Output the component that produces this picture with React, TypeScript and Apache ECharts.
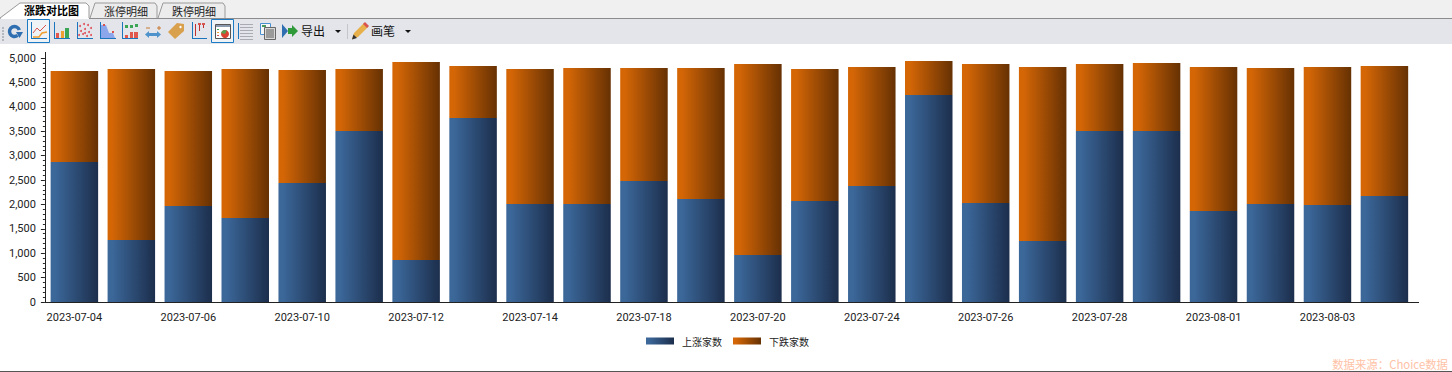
import React, { useEffect, useRef } from "react";
import * as echarts from "echarts";

const categories = ["2023-07-04","2023-07-05","2023-07-06","2023-07-07","2023-07-10","2023-07-11","2023-07-12","2023-07-13","2023-07-14","2023-07-17","2023-07-18","2023-07-19","2023-07-20","2023-07-21","2023-07-24","2023-07-25","2023-07-26","2023-07-27","2023-07-28","2023-07-31","2023-08-01","2023-08-02","2023-08-03","2023-08-04"];
const upCounts = [2869,1270,1967,1721,2439,3504,861,3770,2008,2008,2480,2111,963,2070,2377,4242,2029,1250,3504,3504,1865,2008,1988,2172];
const downCounts = [1865,3505,2767,3054,2315,1271,4057,1066,2767,2787,2315,2684,3914,2705,2439,697,2848,3566,1373,1394,2951,2787,2828,2664];
const seriesNames = ["上涨家数", "下跌家数"];
const tabNames = ["涨跌对比图", "涨停明细", "跌停明细"];
const watermark = "数据来源：Choice数据";

const FONT = "Roboto, 'Noto Sans CJK SC', sans-serif";
const CJK = "'Noto Sans CJK SC', sans-serif";
const BLUE = "#1b75bc";

const grad = (a: string, b: string) => new echarts.graphic.LinearGradient(0, 0, 1, 0, [
  { offset: 0, color: a }, { offset: 0.1, color: a }, { offset: 1, color: b },
]);

const rect = (x: number, y: number, w: number, h: number, fill: string, extra: any = {}) => ({
  type: "rect", shape: { x, y, width: w, height: h }, style: { fill, ...extra }, silent: true,
});
const box = (x: number, y: number, w: number, h: number, stroke: string, fill = "none") => ({
  type: "rect", shape: { x: x + 0.5, y: y + 0.5, width: w - 1, height: h - 1 }, style: { fill, stroke, lineWidth: 1 }, silent: true,
});
const line = (x1: number, y1: number, x2: number, y2: number, stroke: string, lineWidth = 1) => ({
  type: "line", shape: { x1, y1, x2, y2 }, style: { stroke, lineWidth }, silent: true,
});
const poly = (points: number[][], fill: string) => ({
  type: "polygon", shape: { points }, style: { fill }, silent: true,
});
const pline = (points: number[][], stroke: string, lineWidth = 1) => ({
  type: "polyline", shape: { points }, style: { stroke, lineWidth, fill: "none" }, silent: true,
});
const txt = (x: number, y: number, text: string, font: string, fill: string, align = "left") => ({
  type: "text", x, y, style: { text, font, fill, align, verticalAlign: "middle" }, silent: true,
});
const axesIcon = (x: number) => [
  line(x + 0.5, 22, x + 0.5, 39, BLUE), line(x, 38.5, x + 16, 38.5, BLUE),
];

function chrome() {
  const els: any[] = [];
  // tab strip
  els.push(rect(0, 0, 1452, 18, "#f0f0f0"));
  els.push(poly([[90, 18], [95, 3], [155, 3], [157, 6], [157, 18]], "#ececec"));
  els.push(pline([[90, 18], [95, 3], [155, 3], [157, 6], [157, 18]], "#9a9a9a"));
  els.push(poly([[158, 18], [163, 3], [223, 3], [225, 6], [225, 18]], "#ececec"));
  els.push(pline([[158, 18], [163, 3], [223, 3], [225, 6], [225, 18]], "#9a9a9a"));
  els.push(rect(0, 18, 1452, 1, "#8c8c8c"));
  els.push(poly([[0, 19], [20, 3], [86, 3], [89, 6], [89, 19]], "#ffffff"));
  els.push(pline([[0, 18], [20, 3], [86, 3], [89, 6], [89, 18]], "#9a9a9a"));
  els.push(txt(24, 10, tabNames[0], `bold 11px ${CJK}`, "#000"));
  els.push(txt(104, 10.5, tabNames[1], `11px ${CJK}`, "#222"));
  els.push(txt(172, 10.5, tabNames[2], `11px ${CJK}`, "#222"));
  // toolbar
  els.push(rect(0, 19, 1452, 25, "#e3e5ea"));
  for (let y = 27; y < 41; y += 3) els.push(rect(2, y, 2, 2, "#b4b8c0"));
  // refresh
  els.push({ type: "arc", shape: { cx: 14.5, cy: 31.5, r: 5, startAngle: 0.9, endAngle: 6.0 }, style: { stroke: "#2f6eb0", lineWidth: 3.5, fill: "none" }, silent: true });
  els.push(poly([[16, 32], [23, 32], [19.5, 38]], "#2f6eb0"));
  // selected line chart
  els.push(box(27, 19, 23, 24, "#1b7ac4", "#f0f3f6"));
  els.push(...axesIcon(31));
  els.push(pline([[33, 33], [37, 28], [40, 31], [46, 25]], "#d9534f"));
  els.push(pline([[33, 37], [39, 37], [42, 33], [47, 32]], "#f0a030", 1.5));
  // bar icon
  els.push(...axesIcon(54));
  els.push(rect(56, 33, 3, 5, "#e2574c"), rect(61, 31, 3, 7, "#f0a030"), rect(65, 28, 4, 10, "#3aa655"));
  // scatter
  els.push(...axesIcon(77));
  [[80,26],[84,24],[88,25],[91,28],[81,31],[85,29],[89,32],[79,35],[83,34],[87,36],[91,35],[85,33]].forEach(([cx, cy]) =>
    els.push({ type: "circle", shape: { cx, cy, r: 1 }, style: { fill: "#e0505a" }, silent: true }));
  // area
  els.push(poly([[101, 38], [101, 25], [106, 25], [109, 33], [113, 33], [115, 38]], "#8ba6ea"));
  els.push(...axesIcon(100));
  els.push(rect(103, 24, 2, 2, "#d9534f"), rect(112, 31, 2, 2, "#d9534f"));
  // bar up/down
  els.push(...axesIcon(122));
  els.push(rect(125, 25, 3, 3, "#3aa655"), rect(130, 25, 3, 3, "#3aa655"), rect(135, 24, 3, 3, "#3aa655"));
  els.push(rect(125, 35, 3, 3, "#e2574c"), rect(130, 32, 3, 6, "#e2574c"), rect(134, 32, 4, 6, "#e2574c"));
  // zoom arrows
  els.push(line(146, 28, 150, 28, "#c87830"), line(157, 28, 161, 28, "#c87830"), line(159, 26, 159, 30, "#c87830"));
  els.push(rect(148, 33, 10, 3, "#4f93cc"));
  els.push(poly([[145, 34.5], [149, 31], [149, 38]], "#4f93cc"), poly([[161, 34.5], [157, 31], [157, 38]], "#4f93cc"));
  // tag
  els.push(poly([[168, 32], [177, 23], [184, 24], [184, 31], [175, 39]], "#d9a04e"));
  els.push({ type: "circle", shape: { cx: 180.5, cy: 27, r: 1.2 }, style: { fill: "#fff" }, silent: true });
  // dots/bars
  els.push(line(192.5, 22, 192.5, 39, BLUE), line(192, 38.5, 207, 38.5, BLUE));
  els.push(rect(195, 24, 1, 12, "#c03030"), rect(199, 24, 1, 7, "#c03030"), rect(203, 24, 1, 4, "#c03030"));
  els.push(rect(198, 23, 3, 2, "#d9534f"), rect(202, 23, 3, 2, "#d9534f"));
  // selected pie window
  els.push(box(211, 19, 23, 24, "#1b7ac4", "#f0f3f6"));
  els.push(box(215, 24, 16, 15, "#555555", "#ffffff"));
  els.push(rect(216, 25, 14, 2, "#8a9ab0"));
  els.push(rect(217, 29, 2, 1, "#3aa655"), rect(217, 32, 2, 1, "#f0a030"), rect(217, 35, 2, 1, "#d9534f"));
  els.push({ type: "sector", shape: { cx: 225, cy: 34, r: 4, startAngle: 0, endAngle: 6.283 }, style: { fill: "#d9432f" }, silent: true });
  els.push({ type: "sector", shape: { cx: 225, cy: 34, r: 4, startAngle: 3.4, endAngle: 5.2 }, style: { fill: "#5aa050" }, silent: true });
  // list lines
  els.push(line(238.5, 23, 238.5, 39, BLUE));
  for (let y = 24; y < 40; y += 3) els.push(line(240, y + 0.5, 253, y + 0.5, "#a8acb2"));
  // window icon
  els.push(box(260, 23, 11, 12, "#4a90d0", "#f4f6f8"));
  els.push(box(264, 27, 12, 13, "#666666", "#d8d8d8"));
  els.push(rect(266, 29, 8, 9, "#9a9a9a"));
  els.push(rect(262, 25, 4, 2, "#4a9a60"));
  // export
  els.push(poly([[282, 24], [288, 31], [282, 38]], "#2f6eb0"));
  els.push(rect(288, 28, 5, 6, "#2f9a3a"), poly([[292, 25], [298, 31], [292, 37]], "#2f9a3a"));
  els.push(txt(301, 30.5, "导出", `12px ${CJK}`, "#111"));
  els.push(poly([[335, 30], [341, 30], [338, 33]], "#111"));
  els.push(line(347.5, 24, 347.5, 39, "#c4c6cc"));
  // pencil
  els.push(poly([[352, 39], [354, 33], [364, 23], [368, 27], [358, 37]], "#e8b04a"));
  els.push(poly([[363, 24], [365, 22], [369, 26], [367, 28]], "#d9534f"));
  els.push(poly([[352, 39.5], [353.5, 34.5], [357, 38]], "#333333"));
  els.push(txt(371, 30.5, "画笔", `12px ${CJK}`, "#111"));
  els.push(poly([[405, 30], [411, 30], [408, 33]], "#111"));
  // axis extensions
  els.push(line(45.5, 52, 45.5, 58, "#222"));
  els.push(line(45, 302.5, 46, 302.5, "#222"));
  els.push(line(1412, 302.5, 1419, 302.5, "#222"));
  // window bottom + watermark
  els.push(rect(0, 371, 1452, 1, "#555555"));
  els.push(txt(1448, 364, watermark, `11.4px ${CJK}`, "#ffc2a6", "right"));
  return els;
}

export default function App() {
  const ref = useRef<HTMLDivElement>(null);
  useEffect(() => {
    document.body.style.margin = "0";
    const chart = echarts.init(ref.current!, null, { renderer: "svg" });
    chart.setOption({
      animation: false,
      backgroundColor: "#ffffff",
      grid: { left: 45.9, top: 58, width: 1367, height: 244, containLabel: false },
      legend: {
        left: 646, top: 336, padding: 0, itemWidth: 28, itemHeight: 7, itemGap: 11, selectedMode: false,
        icon: "rect",
        textStyle: { fontFamily: CJK, fontSize: 10, color: "#222", padding: [0, 0, 2, 3] },
        data: seriesNames,
      },
      xAxis: [
        {
          type: "category", data: categories, position: "bottom",
          axisLine: { lineStyle: { color: "#222", width: 1 } },
          axisTick: { alignWithLabel: true, interval: 1, length: 4, lineStyle: { color: "#222" } },
          axisLabel: { interval: 1, margin: 10, fontFamily: FONT, fontSize: 11, color: "#222" },
        },
        {
          type: "category", data: categories, position: "bottom",
          axisLine: { show: false },
          axisTick: { alignWithLabel: true, interval: 0, length: 2, lineStyle: { color: "#222" } },
          axisLabel: { show: false },
        },
      ],
      yAxis: {
        type: "value", min: 0, max: 5000, interval: 500, offset: 1,
        splitLine: { show: false },
        axisLine: { show: true, lineStyle: { color: "#222", width: 1 } },
        axisTick: { show: true, length: 4, lineStyle: { color: "#222" } },
        minorTick: { show: true, splitNumber: 5, length: 2, lineStyle: { color: "#222" } },
        axisLabel: { margin: 9, fontFamily: FONT, fontSize: 11, color: "#222" },
      },
      series: [
        {
          name: seriesNames[0], type: "bar", stack: "total", barWidth: 47.5, data: upCounts,
          itemStyle: { color: grad("#3b6799", "#1c2e4c") },
        },
        {
          name: seriesNames[1], type: "bar", stack: "total", barWidth: 47.5, data: downCounts,
          itemStyle: { color: grad("#d46606", "#663103") },
        },
      ],
      graphic: { elements: chrome() },
    });
    return () => chart.dispose();
  }, []);
  return <div ref={ref} style={{ width: 1452, height: 372 }} />;
}
